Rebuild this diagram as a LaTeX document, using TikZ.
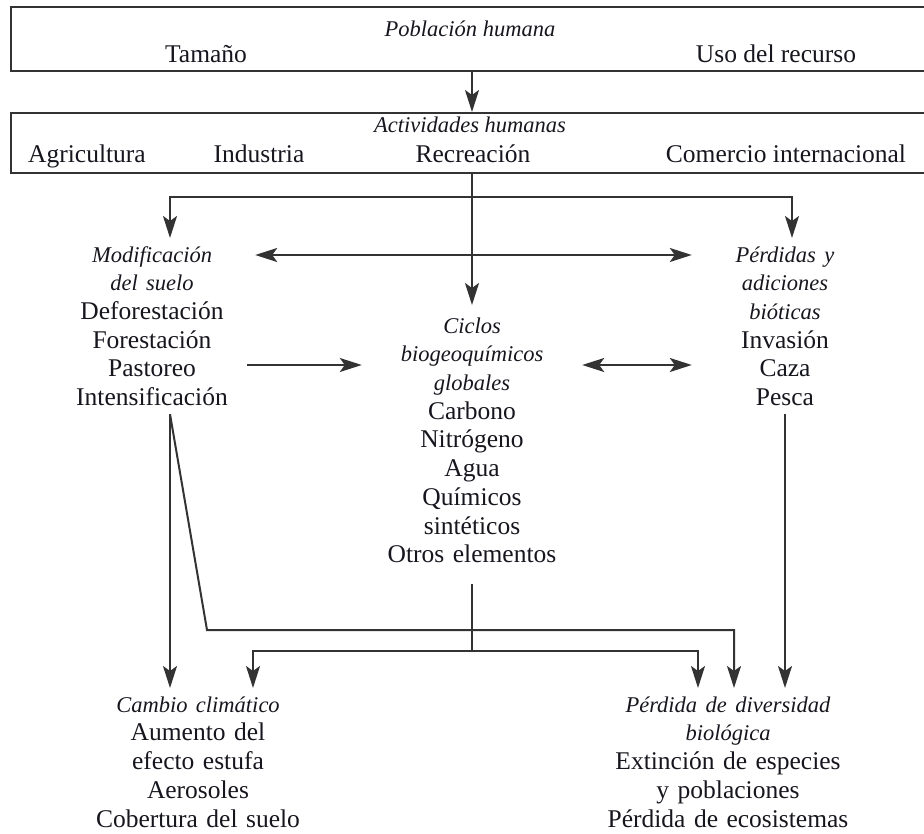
\documentclass[tikz,border=0pt]{standalone}
\usepackage{fontspec}
\setmainfont{Liberation Serif}
\usetikzlibrary{arrows.meta}

\definecolor{ink}{HTML}{16161E}
\definecolor{wire}{HTML}{333333}

% body text and italic headings share one baseline grid
\newcommand\uprtext{\fontsize{25.5}{28.7}\selectfont}
\newcommand\headit{\fontsize{22.5}{28.7}\selectfont\itshape}

\tikzset{
  frame/.style={draw=wire, line width=2pt, minimum width=922pt, inner sep=0pt},
  lbl/.style={anchor=base, text=ink, font=\uprtext, inner sep=0pt},
  ttl/.style={lbl, font=\headit},
  block/.style={anchor=north, text=ink, font=\uprtext, align=center,
    inner xsep=0pt, inner ysep=8pt, text height=16pt},
  link/.style={draw=wire, line width=2pt},
  tip/.tip={Stealth[length=22pt, width=14pt, inset=5pt]},
  arr/.style={link, -tip},
  arrs/.style={link, tip-tip}
}

\begin{document}
\begin{tikzpicture}[x=1pt, y=-1pt]
\useasboundingbox (0,0) rectangle (924,834);

% --- top frames
\node[frame, minimum height=64pt] (pop) at (472,39) {};
\node[ttl] (popT) at (470,37) {Población humana};
\node[lbl] (tam) at (206,63) {Tamaño};
\node[lbl] (uso) at (776,63) {Uso del recurso};

\node[frame, minimum height=60pt] (act) at (472,143) {};
\node[ttl] (actT) at (470,133) {Actividades humanas};
\node[lbl] (agr) at (87,163) {Agricultura};
\node[lbl] (ind) at (259,163) {Industria};
\node[lbl] (rec) at (473,163) {Recreación};
\node[lbl] (com) at (786,163) {Comercio internacional};

% --- middle blocks
\node[block, text width=206pt] (modif) at (152,238)
  {{\headit Modificación}\\{\headit del suelo}\\Deforestación\\Forestación\\Pastoreo\\Intensificación};
\node[block, text width=220pt, inner ysep=12pt] (ciclos) at (472,305)
  {{\headit Ciclos}\\{\headit biogeoquímicos}\\{\headit globales}\\Carbono\\Nitrógeno\\Agua\\Químicos\\sintéticos\\Otros elementos};
\node[block, text width=186pt] (perd) at (785,238)
  {{\headit Pérdidas y}\\{\headit adiciones}\\{\headit bióticas}\\Invasión\\Caza\\Pesca};

% --- bottom blocks
\node[block, text width=236pt] (cambio) at (198,688)
  {{\headit Cambio climático}\\Aumento del\\efecto estufa\\Aerosoles\\Cobertura del suelo};
\node[block, text width=256pt] (perdida) at (728,688)
  {{\headit Pérdida de diversidad}\\{\headit biológica}\\Extinción de especies\\y poblaciones\\Pérdida de ecosistemas};

% --- connectors, top
\draw[arr] (pop.south) -- (act.north);
\draw[arr] (act.south) -- (ciclos.north);
\coordinate (split) at (472,197);
\draw[arr] (split) -| ([xshift=18pt]modif.north);
\draw[arr] (split) -| ([xshift=7pt]perd.north);

% --- connectors, middle
\draw[arrs] ([yshift=-17pt]modif.north east) -- ([yshift=-17pt]perd.north west);
\draw[arr, shorten <=-8pt] ([yshift=-127pt]modif.north east) -- ([yshift=-60pt]ciclos.north west);
\draw[arrs] ([yshift=-60pt]ciclos.north east) -- ([yshift=-127pt]perd.north west);

% --- connectors, bottom
\coordinate (mTap) at ([xshift=18pt]modif.south);
\draw[arr] (mTap) -- (mTap |- cambio.north);
\coordinate (bendA) at (207,630);
\draw[arr] (mTap) -- (bendA) -| ([xshift=6pt]perdida.north);
\coordinate (cJoin) at (472,651);
\draw[link, shorten <=9pt] (ciclos.south) -- (cJoin);
\draw[arr] (cJoin) -| ([xshift=55pt]cambio.north);
\draw[arr] (cJoin) -| ([xshift=-30pt]perdida.north);
\draw[arr] (perd.south) -- (perd.south |- perdida.north);
\end{tikzpicture}
\end{document}
